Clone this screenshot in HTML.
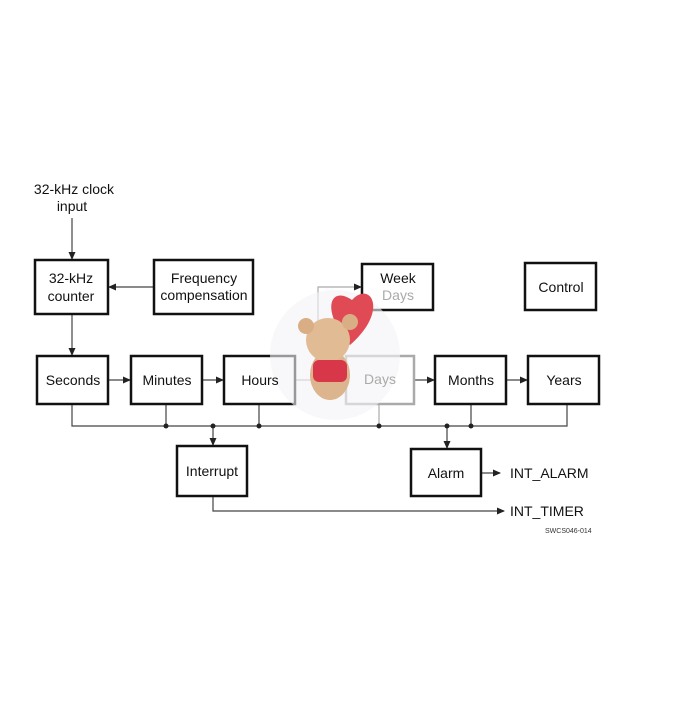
<!DOCTYPE html>
<html><head><style>body{margin:0;background:#fff}</style></head><body>
<svg width="700" height="700" xmlns="http://www.w3.org/2000/svg" font-family="Liberation Sans, sans-serif">
<defs><marker id="a" markerWidth="8" markerHeight="8" refX="7" refY="4" orient="auto" markerUnits="userSpaceOnUse"><path d="M0,0.5 L8,4 L0,7.5Z" fill="#222"/></marker></defs>
<g fill="none" stroke="#444" stroke-width="1.2">
<line x1="72" y1="218" x2="72" y2="259" marker-end="url(#a)"/>
<line x1="154" y1="287" x2="109" y2="287" marker-end="url(#a)"/>
<line x1="72" y1="314" x2="72" y2="355" marker-end="url(#a)"/>
<line x1="108" y1="380" x2="130" y2="380" marker-end="url(#a)"/>
<line x1="202" y1="380" x2="223" y2="380" marker-end="url(#a)"/>
<line x1="295" y1="380" x2="345" y2="380" stroke="#aaa" marker-end="url(#a)"/>
<polyline points="318,380 318,287 361,287" stroke="#aaa" marker-end="url(#a)"/>
<line x1="414" y1="380" x2="434" y2="380" marker-end="url(#a)"/>
<line x1="506" y1="380" x2="527" y2="380" marker-end="url(#a)"/>
<polyline points="72,404 72,426 567,426 567,404"/>
<line x1="166" y1="404" x2="166" y2="426"/>
<line x1="259" y1="404" x2="259" y2="426"/>
<line x1="379" y1="404" x2="379" y2="426" stroke="#aaa"/>
<line x1="471" y1="404" x2="471" y2="426"/>
<line x1="213" y1="426" x2="213" y2="445" marker-end="url(#a)"/>
<line x1="447" y1="426" x2="447" y2="448" marker-end="url(#a)"/>
<line x1="481" y1="473" x2="500" y2="473" marker-end="url(#a)"/>
<polyline points="213,496 213,511 504,511" marker-end="url(#a)"/>
</g>
<g fill="#222"><circle cx="166" cy="426" r="2.5"/><circle cx="213" cy="426" r="2.5"/><circle cx="259" cy="426" r="2.5"/><circle cx="379" cy="426" r="2.5"/><circle cx="447" cy="426" r="2.5"/><circle cx="471" cy="426" r="2.5"/></g>
<g fill="none" stroke="#111" stroke-width="2.5">
<rect x="35" y="260" width="73" height="54"/><rect x="154" y="260" width="99" height="54"/>
<rect x="525" y="263" width="71" height="47"/>
<rect x="37" y="356" width="71" height="48"/><rect x="131" y="356" width="71" height="48"/><rect x="224" y="356" width="71" height="48"/>
<rect x="435" y="356" width="71" height="48"/><rect x="528" y="356" width="71" height="48"/>
<rect x="177" y="446" width="70" height="50"/><rect x="411" y="449" width="70" height="47"/>
</g>
<rect x="362" y="264" width="71" height="46" fill="none" stroke="#111" stroke-width="2.5"/>
<rect x="346" y="356" width="68" height="48" fill="none" stroke="#aaa" stroke-width="2.5"/>
<circle cx="335" cy="355" r="65" fill="#f4f4f6" opacity="0.6"/>
<path d="M350,345 C320,310 330,285 352,300 C370,280 390,310 350,345Z" fill="#e04a55"/>
<ellipse cx="330" cy="375" rx="20" ry="25" fill="#dcb48e"/>
<circle cx="328" cy="340" r="22" fill="#e0bb94"/>
<circle cx="306" cy="326" r="8" fill="#d9ae85"/><circle cx="350" cy="322" r="8" fill="#d9ae85"/>
<rect x="313" y="360" width="34" height="22" rx="6" fill="#d8374a"/>
<g font-size="14" fill="#111" text-anchor="middle">
<text x="74" y="194">32-kHz clock</text><text x="72" y="211">input</text>
<text x="71" y="283">32-kHz</text><text x="71" y="301">counter</text>
<text x="204" y="283">Frequency</text><text x="204" y="300">compensation</text>
<text x="398" y="283">Week</text><text x="398" y="300" fill="#aaa">Days</text>
<text x="561" y="292">Control</text>
<text x="73" y="385">Seconds</text><text x="167" y="385">Minutes</text><text x="260" y="385">Hours</text>
<text x="380" y="384" fill="#aaa">Days</text><text x="471" y="385">Months</text><text x="564" y="385">Years</text>
<text x="212" y="476">Interrupt</text><text x="446" y="478">Alarm</text>
</g>
<g font-size="14" fill="#111"><text x="510" y="478">INT_ALARM</text><text x="510" y="516">INT_TIMER</text></g>
<text x="545" y="533" font-size="7" fill="#333">SWCS046-014</text>
</svg>
</body></html>
